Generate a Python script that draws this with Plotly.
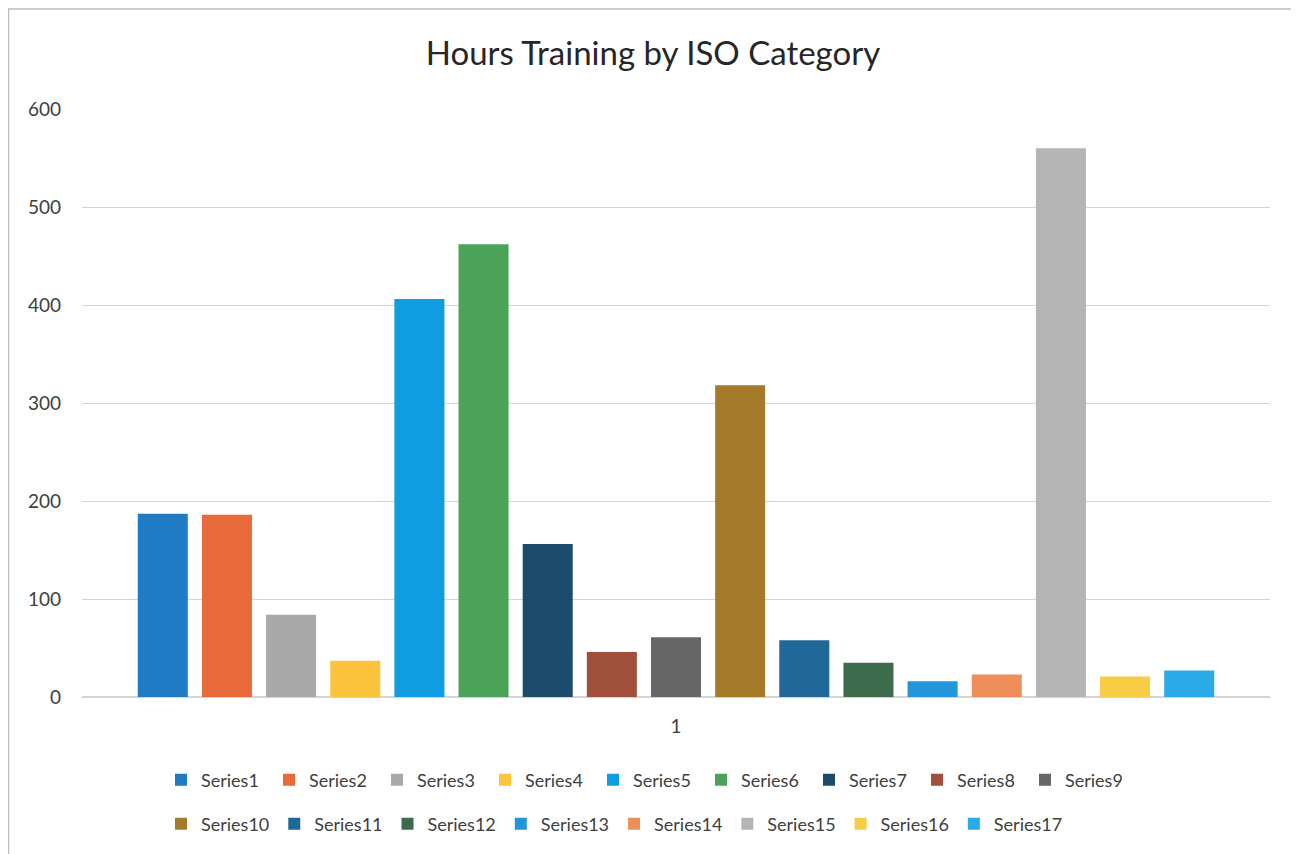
import plotly.graph_objects as go

categories = ["1"]
series_names = [f"Series{i}" for i in range(1, 18)]
values = [187, 186, 84, 37, 406, 462, 156, 46, 61, 318, 58, 35, 16, 23, 560, 21, 27]
colors = ["#1f7cc4", "#e8693a", "#a9a9a9", "#fbc43c", "#0f9ce0", "#4ba35a",
          "#1d4b6b", "#a0503a", "#666666", "#a67a2b", "#1f6898", "#3b6b4b",
          "#2196d8", "#ee8e5a", "#b5b5b5", "#f8cc44", "#2aaae6"]
y_ticks = [0, 100, 200, 300, 400, 500, 600]

fig = go.Figure()
for i, (name, val, col) in enumerate(zip(series_names, values, colors)):
    fig.add_trace(go.Bar(
        x=categories, y=[val], name=name,
        marker=dict(color=col, line=dict(width=0)),
        legend="legend" if i < 9 else "legend2",
    ))

# the page body has an 8px margin; work in figure coordinates (screen - 8)
OFF = 8
W, H = 1299 - OFF, 854 - OFF
L, T = 82 - OFF, 109 - OFF
R = W - (1270 - OFF)
B = H - (697 - OFF)
pw, ph = W - L - R, H - T - B


def px_x(x):
    return (x - OFF - L) / pw


def px_y(y):
    return 1 + (T - (y - OFF)) / ph


fig.update_layout(
    width=W, height=H,
    margin=dict(l=L, r=R, t=T, b=B, pad=0),
    paper_bgcolor="white", plot_bgcolor="white",
    font=dict(family="Lato, Open Sans, sans-serif", color="#404040"),
    title=dict(text="Hours Training by ISO Category", x=(653 - OFF) / W, xanchor="center",
               y=1 - (53 - OFF) / H, yanchor="middle", yref="container",
               font=dict(size=33, color="#262626")),
    barmode="group", bargap=0.082, bargroupgap=0.22,
    xaxis=dict(showgrid=False, showline=False, ticks="", tickfont=dict(size=19, color="#404040"),
               ticklabelstandoff=16),
    yaxis=dict(range=[0, 600], tickvals=y_ticks, showgrid=True, gridcolor="#d4d4d4",
               gridwidth=1, zeroline=True, zerolinecolor="#d4d4d4", showline=False,
               tickfont=dict(size=19, color="#404040"), ticklabelstandoff=20),
    legend=dict(orientation="h", xref="container", yref="container",
                x=(175 - OFF - 14) / W, xanchor="left", y=1 - (780 - OFF) / H, yanchor="middle",
                font=dict(size=18, color="#404040"), entrywidth=63, itemwidth=30,
                bgcolor="rgba(0,0,0,0)"),
    legend2=dict(orientation="h", xref="container", yref="container",
                 x=(175 - OFF - 14) / W, xanchor="left", y=1 - (824 - OFF) / H, yanchor="middle",
                 font=dict(size=18, color="#404040"), entrywidth=0, itemwidth=30,
                 bgcolor="rgba(0,0,0,0)"),
    shapes=[dict(type="rect", xref="paper", yref="paper",
                 x0=px_x(8.5), x1=px_x(1292), y0=px_y(900), y1=px_y(9),
                 line=dict(color="#bdbdbd", width=1.5), fillcolor="rgba(0,0,0,0)",
                 layer="below")],
)

fig.write_html("out.html")
